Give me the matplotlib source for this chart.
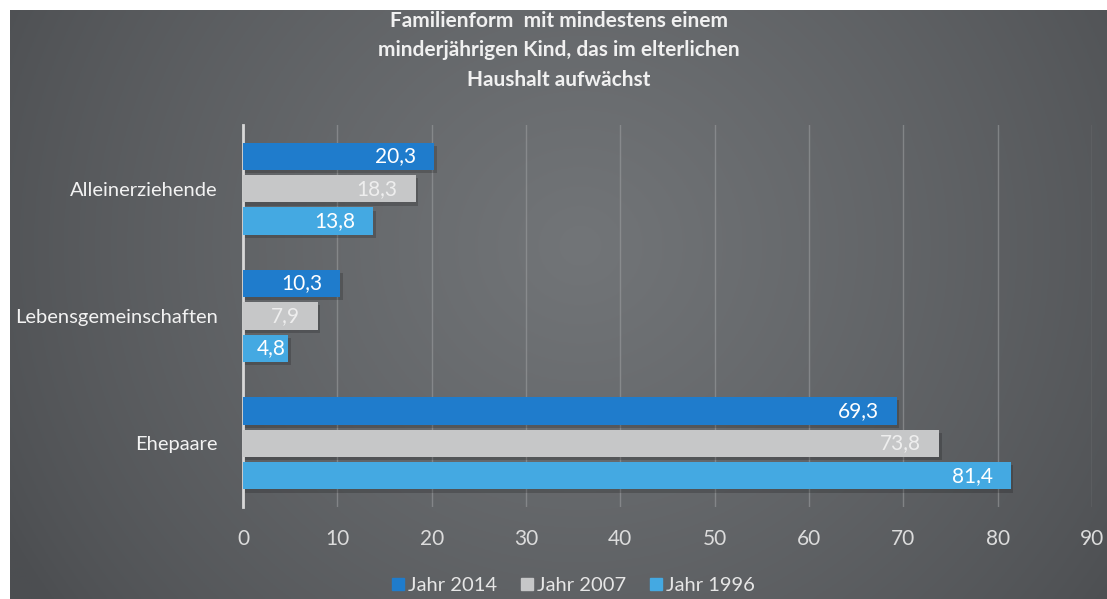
import numpy as np
import matplotlib.pyplot as plt

# Data
categories = ["Alleinerziehende", "Lebensgemeinschaften", "Ehepaare"]
series_names = ["Jahr 2014", "Jahr 2007", "Jahr 1996"]
jahr_2014 = [20.3, 10.3, 69.3]
jahr_2007 = [18.3, 7.9, 73.8]
jahr_1996 = [13.8, 4.8, 81.4]
xticks = [0, 10, 20, 30, 40, 50, 60, 70, 80, 90]

colors = ["#1f7ccc", "#c6c7c8", "#44a9e2"]
label_colors = ["white", "#eeeeee", "white"]

plt.rcParams['font.family'] = ['Lato', 'DejaVu Sans']

fig = plt.figure(figsize=(11.07, 5.99), dpi=100, facecolor="white")

# radial gray background (white margin top/left)
bg = fig.add_axes([10 / 1107, 0, 1 - 10 / 1107, 1 - 10 / 599], zorder=-5)
yy, xx = np.mgrid[0:1:300j, 0:1:550j]
r = np.sqrt(((xx - 0.52) * 1.6) ** 2 + ((yy - 0.6) * 0.9) ** 2)
shade = np.clip(1 - r / 0.95, 0, 1)
c_edge = np.array([0x4c, 0x4e, 0x51]) / 255
c_mid = np.array([0x72, 0x75, 0x78]) / 255
img = c_edge + (c_mid - c_edge) * shade[..., None] ** 0.8
bg.imshow(img, aspect="auto", extent=[0, 1, 0, 1], origin="lower")
bg.axis("off")

ax = fig.add_axes([243 / 1107, 92 / 599, 849 / 1107, 382 / 599])
ax.set_facecolor("none")

pos = np.arange(len(categories))
offsets = [-0.255, 0.0, 0.255]
h = 0.215
for vals, off, col, lc in zip([jahr_2014, jahr_2007, jahr_1996], offsets, colors, label_colors):
    # soft shadow
    ax.barh(pos + off + 0.025, vals, height=h, left=0.25, color="black", alpha=0.18, zorder=2)
    bars = ax.barh(pos + off, vals, height=h, color=col, zorder=3)
    for b, v in zip(bars, vals):
        ax.text(max(v - 1.9, 4.5), b.get_y() + b.get_height() / 2, f"{v:.1f}".replace(".", ","),
                ha="right", va="center", color=lc, fontsize=15, zorder=4)

ax.set_xlim(0, 90)
ax.set_ylim(2.5, -0.5)
ax.set_yticks(pos)
ax.set_yticklabels(categories)
ax.set_xticks(xticks)
ax.tick_params(length=0, colors="#dcdcdc", labelsize=15)
ax.tick_params(axis="y", pad=18, labelsize=14.5)
ax.tick_params(axis="x", pad=16)
for t in ax.get_yticklabels():
    t.set_color("#f2f2f2")
ax.grid(axis="x", color="#9a9c9e", linewidth=1, alpha=0.6, zorder=0)
for s in ["top", "right", "bottom"]:
    ax.spines[s].set_visible(False)
ax.spines["left"].set_color("#d8d8d8")
ax.spines["left"].set_linewidth(2)

# title
fig.text(0.505, 0.982, "Familienform  mit mindestens einem\nminderjährigen Kind, das im elterlichen\nHaushalt aufwächst",
         ha="center", va="top", color="#f0f0f0", fontsize=15, fontweight="bold", linespacing=1.6)

# legend
handles = [plt.Rectangle((0, 0), 1, 1, color=c) for c in colors]
fig.legend(handles, series_names, loc="lower center", bbox_to_anchor=(0.518, -0.022), ncol=3,
           frameon=False, fontsize=14.5, labelcolor="#e6e6e6", handlelength=0.6, handleheight=0.6,
           handletextpad=0.2, columnspacing=1.2)

fig.savefig("out.png", dpi=100, facecolor="white")
